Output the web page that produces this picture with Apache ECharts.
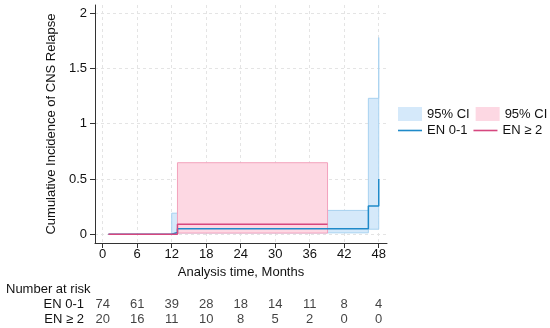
<!DOCTYPE html>
<html><head><meta charset="utf-8">
<script src="https://cdn.jsdelivr.net/npm/echarts@6/dist/echarts.min.js"></script>
<style>html,body{margin:0;padding:0;background:#fff}#c{width:550px;height:328px}</style>
</head><body><div id="c"></div>
<script>
const xTicks = [0, 6, 12, 18, 24, 30, 36, 42, 48];
const yTicks = [0, 0.5, 1, 1.5, 2];
const en01Times = [1, 12, 13, 46.2, 48];
const en01Values = [0, 0.015, 0.05, 0.255, 0.5];
const en2Times = [1, 13, 39.1];
const en2Values = [0, 0.09, 0.09];
const en01CiTimes = [12, 13, 46.2, 48];
const en01CiLower = [0, 0.012, 0.045, 0.15];
const en01CiUpper = [0.19, 0.215, 1.23, 1.78];
const en2CiTimes = [13, 39.1];
const en2CiLower = [0.01, 0.01];
const en2CiUpper = [0.647, 0.647];
const riskGroups = ['EN 0-1', 'EN \u2265 2'];
const riskEn01 = [74, 61, 39, 28, 18, 14, 11, 8, 4];
const riskEn2 = [20, 16, 11, 10, 8, 5, 2, 0, 0];

const FONT = '"Liberation Sans", Arial, sans-serif';
const TXT = '#111';
const AX = '#333';
const BLUE = '#1f8ac9', PINK = '#d6477f';
const BLUE_FILL = '#d5e9fa', BLUE_EDGE = '#a8d2f0';
const PINK_FILL = '#fdd8e3', PINK_EDGE = '#f3a2bd';
const LINE_ICON = 'path://M0,0L24,0L24,1.6L0,1.6Z';

function bandSeries(name, times, lower, upper, fill, edge) {
  return {
    name: name, type: 'custom', xAxisIndex: 0, yAxisIndex: 0,
    itemStyle: { color: fill },
    data: [[times[0], lower[0]]],
    renderItem: function (params, api) {
      const pts = [];
      const n = times.length;
      for (let i = 0; i < n; i++) {
        pts.push(api.coord([times[i], upper[i]]));
        if (i < n - 1) pts.push(api.coord([times[i + 1], upper[i]]));
      }
      for (let i = n - 1; i >= 0; i--) {
        pts.push(api.coord([times[i], lower[i]]));
        if (i > 0) pts.push(api.coord([times[i], lower[i - 1]]));
      }
      return { type: 'polygon', shape: { points: pts },
        style: { fill: fill, stroke: edge, lineWidth: 1 } };
    }
  };
}

function stepData(times, values) { return times.map((t, i) => [t, values[i]]); }

const chart = echarts.init(document.getElementById('c'), null, { renderer: 'canvas' });
chart.setOption({
  animation: false,
  textStyle: { fontFamily: FONT },
  title: { text: 'Number at risk', left: 1, top: 278,
    textStyle: { fontFamily: FONT, fontSize: 13, fontWeight: 'normal', color: TXT } },
  legend: [
    { left: 398, right: 0, top: 107, itemWidth: 24, itemHeight: 14, itemGap: 6, selectedMode: false,
      padding: 0, formatter: n => n.trim(),
      textStyle: { fontFamily: FONT, fontSize: 13, color: TXT, width: 43 },
      data: [{ name: '95% CI', icon: 'rect', itemStyle: { borderWidth: 0 } },
             { name: '95% CI ', icon: 'rect', itemStyle: { borderWidth: 0 } }] },
    { left: 398, right: 0, top: 124, itemWidth: 24, itemHeight: 14, itemGap: 6, selectedMode: false,
      padding: 0,
      textStyle: { fontFamily: FONT, fontSize: 13, color: TXT, width: 43 },
      data: riskGroups.map(n => ({ name: n, icon: LINE_ICON })) }
  ],
  grid: [
    { left: 95, right: 163, top: 5, bottom: 85 },
    { left: 95, right: 163, top: 297, height: 30 }
  ],
  xAxis: [
    { type: 'value', gridIndex: 0, min: -1.34, max: 49.44,
      name: 'Analysis time, Months', nameLocation: 'middle', nameGap: 23,
      nameTextStyle: { fontFamily: FONT, fontSize: 13, color: TXT },
      axisLine: { onZero: false, lineStyle: { color: AX, width: 1 } },
      axisTick: { customValues: xTicks, length: 5, lineStyle: { color: AX } },
      axisLabel: { customValues: xTicks, margin: 5, fontFamily: FONT, fontSize: 13, color: TXT },
      splitLine: { show: true, lineStyle: { color: '#e4e4e4', type: [3, 3], width: 1 } } },
    { type: 'value', gridIndex: 1, min: -1.34, max: 49.44, show: false }
  ],
  yAxis: [
    { type: 'value', gridIndex: 0, min: -0.08, max: 2.075,
      name: 'Cumulative Incidence of CNS Relapse', nameLocation: 'middle', nameGap: 28,
      nameTextStyle: { fontFamily: FONT, fontSize: 13, color: TXT },
      axisLine: { show: true, onZero: false, lineStyle: { color: AX, width: 1 } },
      axisTick: { show: true, customValues: yTicks, length: 5, lineStyle: { color: AX } },
      axisLabel: { customValues: yTicks, margin: 8, fontFamily: FONT, fontSize: 13, color: TXT },
      splitLine: { show: true, lineStyle: { color: '#e4e4e4', type: [3, 3], width: 1 } } },
    { type: 'category', gridIndex: 1, data: riskGroups, inverse: true,
      axisLine: { show: false }, axisTick: { show: false }, splitLine: { show: false },
      axisLabel: { interval: 0, margin: 11, fontFamily: FONT, fontSize: 13, color: TXT } }
  ],
  series: [
    bandSeries('95% CI', en01CiTimes, en01CiLower, en01CiUpper, BLUE_FILL, BLUE_EDGE),
    bandSeries('95% CI ', en2CiTimes, en2CiLower, en2CiUpper, PINK_FILL, PINK_EDGE),
    { name: riskGroups[0], type: 'line', step: 'end', xAxisIndex: 0, yAxisIndex: 0,
      symbol: 'none', showSymbol: false, data: stepData(en01Times, en01Values),
      itemStyle: { color: BLUE }, lineStyle: { color: BLUE, width: 1.5 }, z: 3 },
    { name: riskGroups[1], type: 'line', step: 'end', xAxisIndex: 0, yAxisIndex: 0,
      symbol: 'none', showSymbol: false, data: stepData(en2Times, en2Values),
      itemStyle: { color: PINK }, lineStyle: { color: PINK, width: 1.5 }, z: 4 },
    { type: 'scatter', xAxisIndex: 1, yAxisIndex: 1, symbolSize: 0, silent: true,
      data: riskEn01.map((v, i) => [xTicks[i], 0, v]).concat(riskEn2.map((v, i) => [xTicks[i], 1, v])),
      label: { show: true, position: 'inside', formatter: p => String(p.value[2]),
        fontFamily: FONT, fontSize: 13, color: TXT } }
  ]
});
</script></body></html>
